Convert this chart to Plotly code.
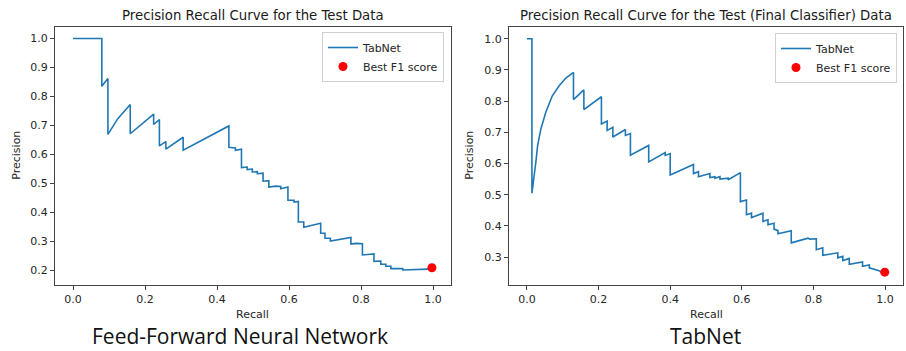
import plotly.graph_objects as go

# Feed-forward network: precision-recall curve vertices
ffn_recall = [0.0, 0.08, 0.08, 0.097, 0.097, 0.125, 0.159, 0.159, 0.224, 0.224, 0.240, 0.240,
              0.258, 0.258, 0.306, 0.306, 0.433, 0.433, 0.451, 0.451, 0.468, 0.468, 0.484, 0.484,
              0.498, 0.498, 0.512, 0.512, 0.528, 0.528, 0.544, 0.544, 0.563, 0.577, 0.577, 0.591,
              0.597, 0.597, 0.614, 0.614, 0.626, 0.626, 0.641, 0.641, 0.688, 0.688, 0.700, 0.700,
              0.715, 0.715, 0.772, 0.772, 0.786, 0.804, 0.804, 0.836, 0.836, 0.855, 0.855, 0.869,
              0.869, 0.883, 0.883, 0.916, 0.916, 0.985, 0.990, 0.995]
ffn_precision = [1.0, 1.0, 0.835, 0.862, 0.669, 0.724, 0.772, 0.671, 0.739, 0.703, 0.720, 0.629,
                 0.644, 0.618, 0.659, 0.614, 0.698, 0.624, 0.622, 0.614, 0.618, 0.554, 0.556, 0.547,
                 0.549, 0.539, 0.540, 0.533, 0.535, 0.507, 0.509, 0.487, 0.490, 0.489, 0.481, 0.487,
                 0.487, 0.441, 0.441, 0.435, 0.437, 0.366, 0.366, 0.348, 0.362, 0.327, 0.327, 0.310,
                 0.310, 0.300, 0.313, 0.290, 0.292, 0.291, 0.252, 0.256, 0.230, 0.231, 0.220, 0.220,
                 0.213, 0.213, 0.205, 0.205, 0.200, 0.203, 0.206, 0.200]
ffn_best = (0.997, 0.208)

# TabNet (final classifier): precision-recall curve vertices
tab_recall = [0.0, 0.014, 0.014, 0.020, 0.025, 0.030, 0.039, 0.053, 0.071, 0.090, 0.108, 0.130,
              0.130, 0.159, 0.159, 0.208, 0.208, 0.224, 0.224, 0.240, 0.240, 0.275, 0.275, 0.289,
              0.289, 0.340, 0.340, 0.386, 0.386, 0.400, 0.400, 0.465, 0.465, 0.479, 0.479, 0.511,
              0.511, 0.525, 0.525, 0.539, 0.539, 0.562, 0.562, 0.596, 0.596, 0.613, 0.613, 0.627,
              0.627, 0.659, 0.659, 0.673, 0.673, 0.690, 0.690, 0.701, 0.701, 0.738, 0.738, 0.785,
              0.790, 0.808, 0.808, 0.826, 0.826, 0.868, 0.868, 0.882, 0.882, 0.900, 0.900, 0.937,
              0.937, 0.956, 0.956, 0.983, 0.988]
tab_precision = [1.0, 1.0, 0.505, 0.552, 0.605, 0.658, 0.711, 0.765, 0.817, 0.849, 0.873, 0.892,
                 0.805, 0.836, 0.773, 0.814, 0.727, 0.736, 0.706, 0.716, 0.685, 0.709, 0.690, 0.696,
                 0.627, 0.658, 0.605, 0.635, 0.626, 0.632, 0.563, 0.597, 0.568, 0.574, 0.558, 0.568,
                 0.555, 0.558, 0.553, 0.558, 0.550, 0.553, 0.548, 0.571, 0.478, 0.483, 0.436, 0.441,
                 0.427, 0.441, 0.415, 0.420, 0.404, 0.409, 0.390, 0.385, 0.375, 0.385, 0.346, 0.361,
                 0.358, 0.359, 0.324, 0.330, 0.306, 0.314, 0.298, 0.303, 0.289, 0.296, 0.277, 0.285,
                 0.271, 0.275, 0.266, 0.257, 0.253]
tab_best = (0.999, 0.252)

x_ticks = [0.0, 0.2, 0.4, 0.6, 0.8, 1.0]
ffn_y_ticks = [0.2, 0.3, 0.4, 0.5, 0.6, 0.7, 0.8, 0.9, 1.0]
tab_y_ticks = [0.3, 0.4, 0.5, 0.6, 0.7, 0.8, 0.9, 1.0]

panel_titles = ["Precision Recall Curve for the Test Data",
                "Precision Recall Curve for the Test (Final Classifier) Data"]
captions = ["Feed-Forward Neural Network", "TabNet"]

LINE_BLUE = "#1f77b4"
TICK_FONT = dict(family="DejaVu Sans", size=11, color="#262626")
W, H = 906, 351

fig = go.Figure()

panels = [
    (ffn_recall, ffn_precision, ffn_best, "x", "y", "legend"),
    (tab_recall, tab_precision, tab_best, "x2", "y2", "legend2"),
]
for rec, prec, best, xa, ya, lg in panels:
    fig.add_trace(go.Scatter(x=rec, y=prec, mode="lines", name="TabNet",
                             line=dict(color=LINE_BLUE, width=1.6),
                             xaxis=xa, yaxis=ya, legend=lg))
    fig.add_trace(go.Scatter(x=[best[0]], y=[best[1]], mode="markers", name="Best F1 score",
                             marker=dict(color="red", size=9),
                             xaxis=xa, yaxis=ya, legend=lg))

y_top = 1 - 27 / H
y_bot = 1 - 284.5 / H
left_dom = [55 / W, 451 / W]
right_dom = [509 / W, 903 / W]

axis_common = dict(showline=True, mirror=True, linecolor="#444444", linewidth=1,
                   ticks="outside", ticklen=4, tickwidth=1, tickcolor="#444444",
                   showgrid=False, zeroline=False, tickfont=TICK_FONT)

legend_style = dict(xanchor="right", yanchor="top",
                    bgcolor="white", bordercolor="#d0d0d0", borderwidth=1,
                    font=dict(family="DejaVu Sans", size=11, color="#262626"),
                    itemwidth=30, tracegroupgap=0)

fig.update_layout(
    width=W, height=H,
    margin=dict(l=0, r=0, t=0, b=0),
    paper_bgcolor="white", plot_bgcolor="white",
    xaxis=dict(domain=left_dom, range=[-0.05, 1.05], tickvals=x_ticks,
               ticktext=[f"{v:.1f}" for v in x_ticks], anchor="y", **axis_common),
    yaxis=dict(domain=[y_bot, y_top], range=[0.15, 1.04], tickvals=ffn_y_ticks,
               ticktext=[f"{v:.1f}" for v in ffn_y_ticks], anchor="x", **axis_common),
    xaxis2=dict(domain=right_dom, range=[-0.05, 1.05], tickvals=x_ticks,
                ticktext=[f"{v:.1f}" for v in x_ticks], anchor="y2", **axis_common),
    yaxis2=dict(domain=[y_bot, y_top], range=[0.2125, 1.0375], tickvals=tab_y_ticks,
                ticktext=[f"{v:.1f}" for v in tab_y_ticks], anchor="x2", **axis_common),
    legend=dict(x=444 / W, y=1 - 32 / H, **legend_style),
    legend2=dict(x=897 / W, y=1 - 33 / H, **legend_style),
    showlegend=True,
)

annotations = []
for dom, title in zip([left_dom, right_dom], panel_titles):
    annotations.append(dict(text=title, x=(dom[0] + dom[1]) / 2, y=1 - 15.5 / H,
                            xref="paper", yref="paper", showarrow=False,
                            xanchor="center", yanchor="middle",
                            font=dict(family="DejaVu Sans", size=13.3, color="#1a1a1a")))
    annotations.append(dict(text="Recall", x=(dom[0] + dom[1]) / 2, y=1 - 314 / H,
                            xref="paper", yref="paper", showarrow=False,
                            xanchor="center", yanchor="middle",
                            font=dict(family="DejaVu Sans", size=11, color="#262626")))
for xc, cap in zip([240 / W, 705 / W], captions):
    annotations.append(dict(text=cap, x=xc, y=1 - 336 / H, xref="paper", yref="paper",
                            showarrow=False, xanchor="center", yanchor="middle",
                            font=dict(family="Open Sans", size=21, color="#111111")))
for xc in [17 / W, 470 / W]:
    annotations.append(dict(text="Precision", x=xc, y=(y_bot + y_top) / 2,
                            xref="paper", yref="paper", showarrow=False, textangle=-90,
                            xanchor="center", yanchor="middle",
                            font=dict(family="DejaVu Sans", size=11, color="#262626")))
fig.update_layout(annotations=annotations)

fig.write_html("out.html")
